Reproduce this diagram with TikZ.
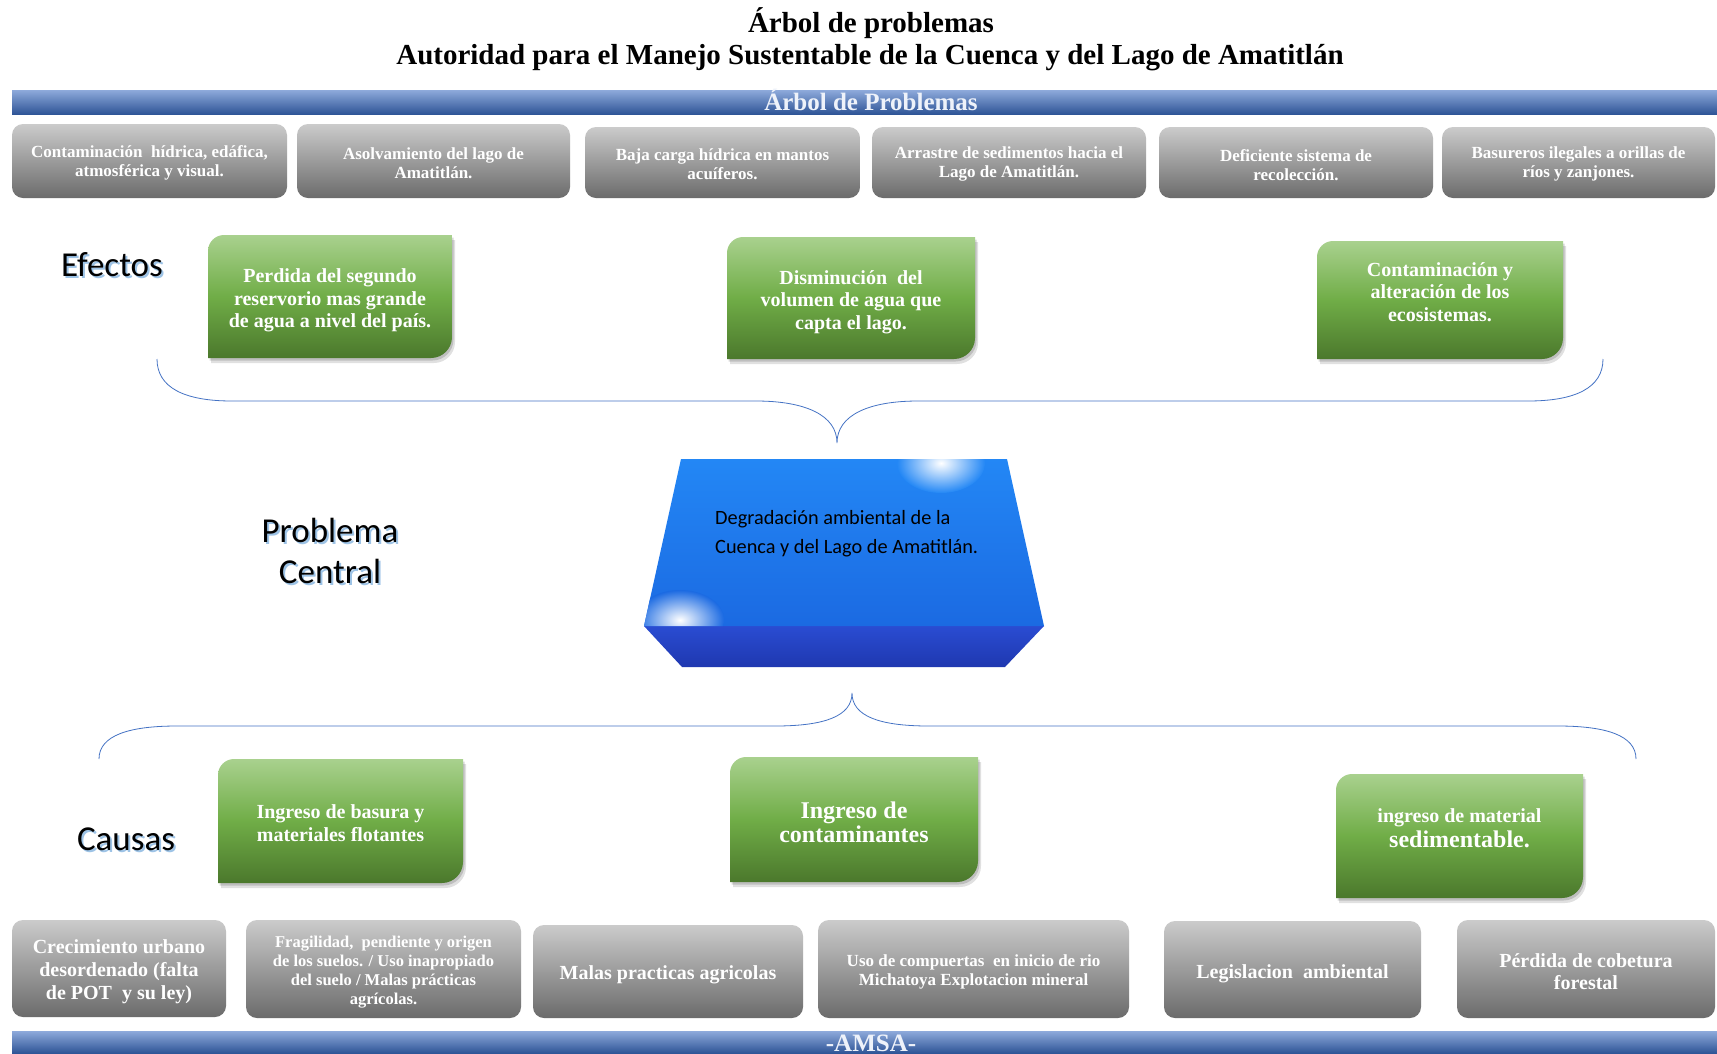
\documentclass[tikz,border=0pt]{standalone}
\usepackage{fontspec}
\setmainfont{Liberation Serif}
\newfontfamily\calib{Carlito}
\definecolor{gOne}{HTML}{A9D18E}
\definecolor{gTwo}{HTML}{70AD47}
\definecolor{gThree}{HTML}{4B782C}
\definecolor{grTop}{HTML}{CBCBCB}
\definecolor{grBot}{HTML}{6B6B6B}
\definecolor{barTop}{HTML}{8EAADB}
\definecolor{barBot}{HTML}{2F5597}
\definecolor{braceC}{HTML}{4472C4}
\definecolor{faceTop}{HTML}{2387F5}
\definecolor{faceBot}{HTML}{1B6AE2}
\definecolor{sideTop}{HTML}{2A4CD2}
\definecolor{sideBot}{HTML}{1F38B0}
\definecolor{lblShadow}{HTML}{9DC3E6}
\definecolor{barText}{HTML}{EEF2FA}
\newcommand{\gshape}[4]{(#1,#4) -- (#1,{#2+16}) .. controls (#1,{#2+7.2}) and ({#1+7.2},#2) .. ({#1+16},#2) -- (#3,#2) -- (#3,{#4-21}) .. controls (#3,{#4-9.4}) and ({#3-9.4},#4) .. ({#3-21},#4) -- cycle}
\newcommand{\greenbox}[4]{%
  \pgfmathsetmacro\gba{#1+3}\pgfmathsetmacro\gbb{#2+5}\pgfmathsetmacro\gbc{#3+3}\pgfmathsetmacro\gbd{#4+5}%
  \fill[black,opacity=.12] \gshape{\gba}{\gbb}{\gbc}{\gbd};%
  \pgfmathsetmacro\gba{#1+1.5}\pgfmathsetmacro\gbb{#2+2.5}\pgfmathsetmacro\gbc{#3+1.5}\pgfmathsetmacro\gbd{#4+2.5}%
  \fill[black,opacity=.15] \gshape{\gba}{\gbb}{\gbc}{\gbd};%
  \shade[greenfill] \gshape{#1}{#2}{#3}{#4};}
% name, x1, y1, x2, y2, text y, font, text
\newcommand{\graybox}[8]{%
  \shade[grayfill] (#2,#3) rectangle (#4,#5);%
  \node[graytext, font=\bfseries#7] (#1) at ({(#2+#4)/2},#6) {#8};}
\newcommand{\shlabel}[4]{%
  \node[lbl,text=lblShadow] at ({#2+2},{#3+2.5}) {#4};
  \node[lbl] (#1) at (#2,#3) {#4};}
\begin{document}
\begin{tikzpicture}[x=1pt,y=-1pt,
  grayfill/.style={rounded corners=11pt, top color=grTop, bottom color=grBot},
  graytext/.style={inner sep=0pt, text=white, align=center},
  greenfill/.style={top color=gOne, bottom color=gThree, middle color=gTwo},
  greentext/.style={text=white, align=center, inner sep=0pt, font=\bfseries\fontsize{20}{22.5}\selectfont},
  lbl/.style={anchor=base, inner sep=0pt, font=\calib\fontsize{35}{41}\selectfont},
  bracestyle/.style={draw=braceC, line width=0.8pt},
  title/.style={anchor=base, inner sep=0pt, font=\bfseries\fontsize{29}{34}\selectfont}]
\useasboundingbox (0,0) rectangle (1717,1053);
\fill[white] (0,0) rectangle (1717,1053);

% titles
\node[title] (t1) at (871,32) {Árbol de problemas};
\node[title] (t2) at (870,64.5) {Autoridad para el Manejo Sustentable de la Cuenca y del Lago de Amatitlán};

% top bar
\shade[top color=barTop, bottom color=barBot] (12,90) rectangle (1717,114);
\node[anchor=base, inner sep=0pt, text=barText, font=\bfseries\fontsize{25}{30}\selectfont] (bar) at (871,110.5) {Árbol de Problemas};

% top gray boxes
\def\tf{\fontsize{17}{19.5}\selectfont}
\graybox{g1}{12}{124}{287}{198}{163}{\tf}{Contaminación\ \ hídrica, edáfica,\\atmosférica y visual.}
\graybox{g2}{297}{124}{570}{198}{163}{\tf}{Asolvamiento del lago de\\Amatitlán.}
\graybox{g3}{585}{127}{860}{198}{164}{\tf}{Baja carga hídrica en mantos\\acuíferos.}
\graybox{g4}{872}{127}{1146}{198}{164}{\tf}{Arrastre de sedimentos hacia el\\Lago de Amatitlán.}
\graybox{g5}{1159}{127}{1433}{198}{165}{\tf}{Deficiente sistema de\\recolección.}
\graybox{g6}{1442}{127}{1715}{198}{164}{\tf}{Basureros ilegales a orillas de\\ríos y zanjones.}

% labels
\shlabel{lef}{112}{276}{Efectos}
\shlabel{lpc}{330}{542}{Problema}
\shlabel{lpc2}{330}{583}{Central}
\shlabel{lca}{126}{850}{Causas}

% effect boxes
\greenbox{208}{235}{452}{358}
\node[greentext] (e1) at (330,300.5) {Perdida del segundo\\reservorio mas grande\\de agua a nivel del país.};
\greenbox{727}{237}{975}{359}
\node[greentext] (e2) at (851,302) {Disminución\ \ del\\volumen de agua que\\capta el lago.};
\greenbox{1317}{241}{1563}{359}
\node[greentext] (e3) at (1440,292) {Contaminación y\\alteración de los\\ecosistemas.};

% effects brace
\coordinate (bt) at (837,443);
\draw[bracestyle] (157,359) .. controls (157,388) and (185,401) .. (232,401) -- (756,401)
  .. controls (805,401) and (837,415) .. (bt)
  .. controls (837,415) and (869,401) .. (918,401) -- (1528,401)
  .. controls (1575,401) and (1603,388) .. (1603,359);

% central 3D box
\shade[top color=sideTop, bottom color=sideBot] (644,626) -- (1044,626) -- (1005,667) -- (682,667) -- cycle;
\shade[top color=faceTop, bottom color=faceBot] (681,459) -- (1007,459) -- (1044,626) -- (644,626) -- cycle;
\begin{scope}
\clip (681,459) -- (1007,459) -- (1044,626) -- (644,626) -- cycle;
\shade[inner color=white, outer color=faceTop] (941,463) ellipse[x radius=44, y radius=30];
\shade[inner color=white, outer color=faceBot] (680,620) ellipse[x radius=44, y radius=30];
\end{scope}
\node[anchor=west, align=left, inner sep=0pt, font=\calib\fontsize{20.3}{29}\selectfont] (central) at (715,534)
  {Degradación ambiental de la\\Cuenca y del Lago de Amatitlán.};

% causes brace
\coordinate (ct) at (852,693);
\draw[bracestyle] (99,759) .. controls (99,735) and (130,726) .. (177,726) -- (775,726)
  .. controls (825,726) and (852,716) .. (ct)
  .. controls (852,716) and (879,726) .. (929,726) -- (1558,726)
  .. controls (1605,726) and (1636,735) .. (1636,759);

% cause boxes
\greenbox{218}{759}{463}{883}
\node[greentext] (c1) at (340.5,823) {Ingreso de basura y\\materiales flotantes};
\greenbox{730}{757}{978}{882}
\node[greentext, font=\bfseries\fontsize{24}{24}\selectfont] (c2) at (854,822) {Ingreso de\\contaminantes};
\greenbox{1336}{774}{1583}{898}
\node[greentext] (c3) at (1459.5,828) {{\fontsize{20}{22}\selectfont ingreso de material}\\[2pt]{\fontsize{24}{26}\selectfont sedimentable.}};

% bottom gray boxes
\graybox{b1}{12}{920}{226}{1017}{972}{\fontsize{20}{23}\selectfont}{Crecimiento urbano\\desordenado (falta\\de POT\ \ y su ley)}
\graybox{b2}{246}{920}{521}{1018}{972.5}{\fontsize{16.5}{19}\selectfont}{Fragilidad,\ \ pendiente y origen\\de los suelos. / Uso inapropiado\\del suelo / Malas prácticas\\agrícolas.}
\graybox{b3}{533}{925}{803}{1018}{975}{\fontsize{20}{23}\selectfont}{Malas practicas agricolas}
\graybox{b4}{818}{920}{1129}{1018}{972}{\fontsize{17}{19}\selectfont}{Uso de compuertas\ \ en inicio de rio\\Michatoya Explotacion mineral}
\graybox{b5}{1164}{921}{1421}{1018}{974}{\fontsize{20}{23}\selectfont}{Legislacion\ \ ambiental}
\graybox{b6}{1457}{920}{1715}{1018}{972}{\fontsize{20}{22}\selectfont}{Pérdida de cobetura\\forestal}

% bottom bar
\shade[top color=barTop, bottom color=barBot] (12,1031) rectangle (1717,1053);
\node[anchor=base, inner sep=0pt, text=barText, font=\bfseries\fontsize{25}{30}\selectfont] (amsa) at (871,1051) {-AMSA-};
\end{tikzpicture}
\end{document}
